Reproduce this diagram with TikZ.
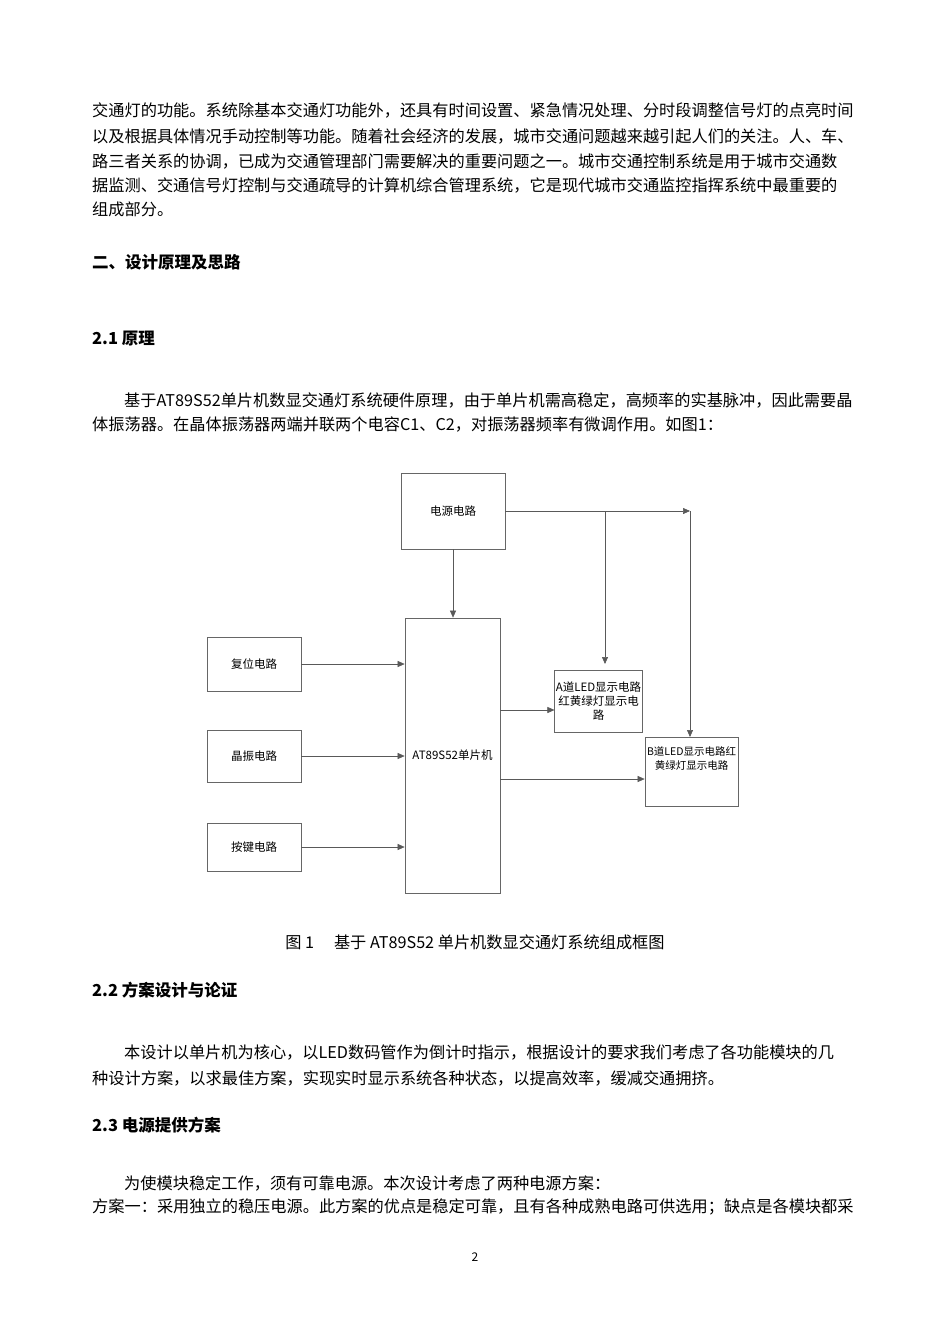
\documentclass[tikz,border=0pt]{standalone}
\usepackage{fontspec}
\setmainfont{Noto Sans CJK SC}
\usetikzlibrary{arrows.meta}
\begin{document}
\begin{tikzpicture}[x=1pt,y=-1pt,
  para/.style={anchor=west,inner sep=0,font=\fontsize{16.2}{17}\selectfont},
  head/.style={anchor=west,inner sep=0,font=\fontsize{16.5}{18}\selectfont\bfseries},
  blk/.style={draw=black!60,line width=0.7pt,inner sep=1pt,align=center,font=\fontsize{11.5}{14}\selectfont},
  ar/.style={draw=black!65,line width=0.6pt,-{Triangle[length=7pt,width=6pt]}},
  ln/.style={draw=black!65,line width=0.6pt}]
\useasboundingbox (0,0) rectangle (950,1344);
\fill[white] (0,0) rectangle (950,1344);
\node[para] (p1) at (92,110) {交通灯的功能。系统除基本交通灯功能外，还具有时间设置、紧急情况处理、分时段调整信号灯的点亮时间};
\node[para] (p2) at (92,136) {以及根据具体情况手动控制等功能。随着社会经济的发展，城市交通问题越来越引起人们的关注。人、车、};
\node[para] (p3) at (92,161) {路三者关系的协调，已成为交通管理部门需要解决的重要问题之一。城市交通控制系统是用于城市交通数};
\node[para] (p4) at (92,185) {据监测、交通信号灯控制与交通疏导的计算机综合管理系统，它是现代城市交通监控指挥系统中最重要的};
\node[para] (p5) at (92,209) {组成部分。};
\node[head] (h1) at (92,262) {二、设计原理及思路};
\node[head] (h2) at (92,339) {2.1 原理};
\node[para] (q1) at (124,400) {基于AT89S52单片机数显交通灯系统硬件原理，由于单片机需高稳定，高频率的实基脉冲，因此需要晶};
\node[para] (q2) at (92,425) {体振荡器。在晶体振荡器两端并联两个电容C1、C2，对振荡器频率有微调作用。如图1：};

\node[blk,minimum width=104pt,minimum height=76pt] (pw) at (453,511) {电源电路};
\node[blk,minimum width=95pt,minimum height=275pt] (mcu) at (452.5,755.5) {AT89S52单片机};
\node[blk,minimum width=94pt,minimum height=54pt] (rst) at (254,664) {复位电路};
\node[blk,minimum width=94pt,minimum height=52pt] (osc) at (254,756) {晶振电路};
\node[blk,minimum width=94pt,minimum height=48pt] (key) at (254,847) {按键电路};
\node[blk,minimum width=87pt,minimum height=62pt] (la) at (598.5,701) {A道LED显示电路\\红黄绿灯显示电\\路};
\node[blk,minimum width=93pt,minimum height=69pt,anchor=north,font=\fontsize{10.5}{14}\selectfont] (lb) at (691.5,737) {B道LED显示电路红\\黄绿灯显示电路\\[14pt]};
\coordinate (c1) at (605,511);
\coordinate (c2) at (690,511);
\draw[ar] (pw.south) -- (pw.south |- mcu.north);
\draw[ar] (pw.east |- c2) -- (c2);
\draw[ar] (c1) -- (605,664);
\draw[ar] (c2) -- (lb.north -| c2);
\draw[ar] (rst.east) -- (rst.east -| mcu.west);
\draw[ar] (osc.east) -- (osc.east -| mcu.west);
\draw[ar] (key.east) -- (key.east -| mcu.west);
\draw[ar] (mcu.east |- 0,710) -- (la.west |- 0,710);
\draw[ar] (mcu.east |- 0,779) -- (lb.west |- 0,779);

\node[para,anchor=center] (cap) at (475,942) {图 1\quad\ 基于 AT89S52 单片机数显交通灯系统组成框图};
\node[head] (h3) at (92,990) {2.2 方案设计与论证};
\node[para] (r1) at (124,1052) {本设计以单片机为核心，以LED数码管作为倒计时指示，根据设计的要求我们考虑了各功能模块的几};
\node[para] (r2) at (92,1078) {种设计方案，以求最佳方案，实现实时显示系统各种状态，以提高效率，缓减交通拥挤。};
\node[head] (h4) at (92,1125) {2.3 电源提供方案};
\node[para] (s1) at (124,1183) {为使模块稳定工作，须有可靠电源。本次设计考虑了两种电源方案：};
\node[para] (s2) at (92,1207) {方案一：采用独立的稳压电源。此方案的优点是稳定可靠，且有各种成熟电路可供选用；缺点是各模块都采};
\node[para,anchor=center,font=\fontsize{12}{14}\selectfont] (pg) at (475,1257) {2};
\end{tikzpicture}
\end{document}
